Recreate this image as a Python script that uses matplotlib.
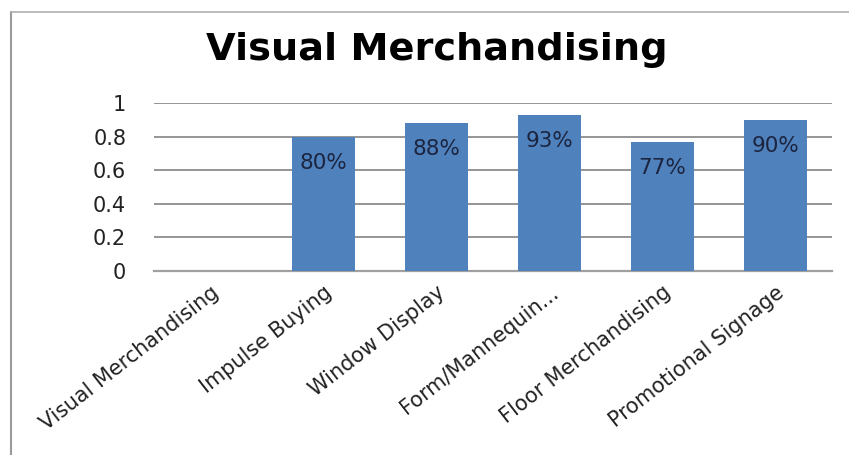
import matplotlib
matplotlib.use("Agg")
import matplotlib.pyplot as plt
from matplotlib.lines import Line2D

categories = ["Visual Merchandising", "Impulse Buying", "Window Display",
              "Form/Mannequin...", "Floor Merchandising", "Promotional Signage"]
values = [0.0, 0.80, 0.88, 0.93, 0.77, 0.90]
labels = ["", "80%", "88%", "93%", "77%", "90%"]
yticks = [0, 0.2, 0.4, 0.6, 0.8, 1.0]
ytick_labels = ["0", "0.2", "0.4", "0.6", "0.8", "1"]

plt.rcParams["font.family"] = ["DejaVu Sans"]

W, H = 849, 455
fig = plt.figure(figsize=(W / 100, H / 100), dpi=100)
fig.patch.set_facecolor("white")

# chart frame (top and left edges)
fig.add_artist(Line2D([11/W, 11/W], [0, 1 - 12/H], transform=fig.transFigure,
                      color="#9a9a9a", lw=1.5))
fig.add_artist(Line2D([11/W, 1], [1 - 12/H, 1 - 12/H], transform=fig.transFigure,
                      color="#b0b0b0", lw=1.2))

ax = fig.add_axes([154/W, 1 - 271/H, (832 - 154)/W, (271 - 103)/H])
x = list(range(len(categories)))
bars = ax.bar(x, values, width=0.56, color="#4F81BD", zorder=3)

for b, v, lab in zip(bars, values, labels):
    if lab:
        ax.text(b.get_x() + b.get_width()/2, v - 0.155, lab, ha="center", va="center",
                fontsize=15.5, color="#1c2540", zorder=4)

ax.set_xlim(-0.5, len(categories) - 0.5)
ax.set_ylim(0, 1)
ax.set_yticks(yticks)
ax.set_yticklabels(ytick_labels, fontsize=15, color="#222222")
ax.yaxis.grid(True, color="#8c8c8c", lw=1.3, zorder=0)
ax.tick_params(axis="y", length=0, pad=20)
ax.tick_params(axis="x", length=0, pad=8)
ax.set_xticks(x)
ax.set_xticklabels(categories, rotation=38, ha="right", rotation_mode="anchor",
                   fontsize=15, color="#222222")
for s in ["left", "right", "top"]:
    ax.spines[s].set_visible(False)
ax.spines["bottom"].set_color("#a0a0a0")
ax.spines["bottom"].set_linewidth(1.6)

fig.text(436.5/W, 1 - 60/H, "Visual Merchandising", ha="center", va="baseline",
         fontsize=27.5, fontweight="bold", color="black")

fig.savefig("out.png", dpi=100)
